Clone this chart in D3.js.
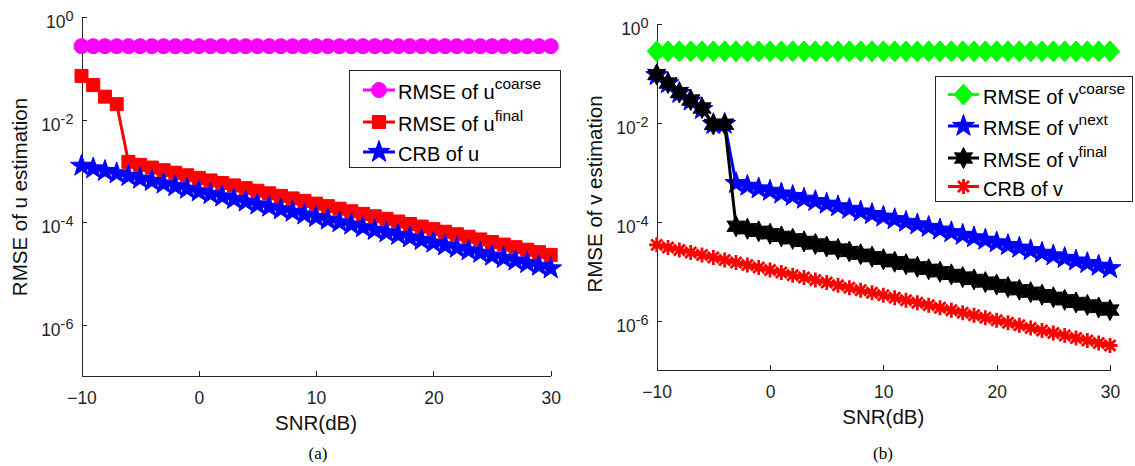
<!DOCTYPE html>
<html>
<head>
<meta charset="utf-8">
<title></title>
<script src="https://cdn.jsdelivr.net/npm/d3@7"></script>
<style>
  body { margin: 0; background: #fff; }
  svg { font-family: Arial, "Liberation Sans", sans-serif; }
  .axis path, .axis line { stroke: #262626; stroke-width: 1; shape-rendering: crispEdges; }
  .axis text { font-size: 17.5px; fill: #262626; font-family: Arial, "Liberation Sans", sans-serif; }
</style>
</head>
<body>
<svg id="chart" width="1135" height="466"></svg>
<script>
// SNR in dB (x values, one marker per dB)
var snr = [-10,-9,-8,-7,-6,-5,-4,-3,-2,-1,0,1,2,3,4,5,6,7,8,9,10,
           11,12,13,14,15,16,17,18,19,20,21,22,23,24,25,26,27,28,29,30];
var xTicks = [-10, 0, 10, 20, 30];
var yTicks = [1e-6, 1e-4, 1e-2, 1];

// panel (a)
var uCoarse = [0.27,0.27,0.27,0.27,0.27,0.27,0.27,0.27,0.27,0.27,0.27,0.27,0.27,0.27,
               0.27,0.27,0.27,0.27,0.27,0.27,0.27,0.27,0.27,0.27,0.27,0.27,0.27,0.27,
               0.27,0.27,0.27,0.27,0.27,0.27,0.27,0.27,0.27,0.27,0.27,0.27,0.27];
var uFinal = [0.071,0.047,0.028,0.020,1.5e-3,1.31e-3,1.16e-3,1.03e-3,9.2e-4,8.2e-4,
              7.3e-4,6.5e-4,5.8e-4,5.2e-4,4.6e-4,4.1e-4,3.65e-4,3.25e-4,2.9e-4,2.6e-4,
              2.3e-4,2.05e-4,1.83e-4,1.63e-4,1.45e-4,1.3e-4,1.16e-4,1.03e-4,9.2e-5,8.2e-5,
              7.3e-5,6.5e-5,5.8e-5,5.2e-5,4.6e-5,4.1e-5,3.65e-5,3.25e-5,2.9e-5,2.6e-5,2.3e-5];
var uCrb = [1.25e-3,1.11e-3,9.9e-4,8.9e-4,7.9e-4,7.0e-4,6.3e-4,5.6e-4,5.0e-4,4.45e-4,
            3.95e-4,3.5e-4,3.15e-4,2.8e-4,2.5e-4,2.2e-4,1.98e-4,1.77e-4,1.58e-4,1.4e-4,
            1.25e-4,1.11e-4,9.9e-5,8.9e-5,7.9e-5,7.0e-5,6.3e-5,5.6e-5,5.0e-5,4.45e-5,
            3.95e-5,3.5e-5,3.15e-5,2.8e-5,2.5e-5,2.2e-5,1.98e-5,1.77e-5,1.58e-5,1.4e-5,1.25e-5];

// panel (b)
var vCoarse = [0.28,0.28,0.28,0.28,0.28,0.28,0.28,0.28,0.28,0.28,0.28,0.28,0.28,0.28,
               0.28,0.28,0.28,0.28,0.28,0.28,0.28,0.28,0.28,0.28,0.28,0.28,0.28,0.28,
               0.28,0.28,0.28,0.28,0.28,0.28,0.28,0.28,0.28,0.28,0.28,0.28,0.28];
var vNext = [0.092,0.063,0.040,0.028,0.019,9.4e-3,9.5e-3,6.0e-4,5.3e-4,4.7e-4,
             4.2e-4,3.7e-4,3.3e-4,2.9e-4,2.6e-4,2.3e-4,2.04e-4,1.81e-4,1.6e-4,1.42e-4,
             1.26e-4,1.12e-4,9.9e-5,8.8e-5,7.8e-5,6.9e-5,6.1e-5,5.4e-5,4.8e-5,4.3e-5,
             3.8e-5,3.35e-5,2.97e-5,2.64e-5,2.34e-5,2.07e-5,1.84e-5,1.63e-5,1.45e-5,1.28e-5,1.14e-5];
var vFinal = [0.095,0.064,0.041,0.029,0.020,9.3e-3,9.4e-3,8.1e-5,7.2e-5,6.4e-5,
              5.7e-5,5.05e-5,4.5e-5,4.0e-5,3.55e-5,3.15e-5,2.8e-5,2.5e-5,2.2e-5,1.96e-5,
              1.74e-5,1.55e-5,1.38e-5,1.22e-5,1.09e-5,9.7e-6,8.6e-6,7.6e-6,6.8e-6,6.0e-6,
              5.35e-6,4.75e-6,4.2e-6,3.75e-6,3.33e-6,2.96e-6,2.63e-6,2.33e-6,2.07e-6,1.84e-6,1.63e-6];
var vCrb = [3.4e-5,3.02e-5,2.69e-5,2.39e-5,2.13e-5,1.89e-5,1.68e-5,1.5e-5,1.33e-5,1.18e-5,
            1.05e-5,9.4e-6,8.3e-6,7.4e-6,6.6e-6,5.9e-6,5.2e-6,4.6e-6,4.1e-6,3.67e-6,
            3.26e-6,2.9e-6,2.58e-6,2.3e-6,2.04e-6,1.82e-6,1.62e-6,1.44e-6,1.28e-6,1.14e-6,
            1.01e-6,9.0e-7,8.0e-7,7.1e-7,6.3e-7,5.6e-7,5.0e-7,4.45e-7,3.96e-7,3.52e-7,3.13e-7];

var svg = d3.select("#chart");

/** star shaped marker, n points **/
function starPath(n, R, ratio) {
  var pts = [];
  for (var i = 0; i < 2 * n; i++) {
    var a = -Math.PI / 2 + i * Math.PI / n;
    var rr = (i % 2) ? R * ratio : R;
    pts.push([(rr * Math.cos(a)).toFixed(2), (rr * Math.sin(a)).toFixed(2)]);
  }
  return "M" + pts.join("L") + "Z";
}

var markers = {
  circle:    {d: "M-7.5,0A7.5,7.5 0 1,0 7.5,0A7.5,7.5 0 1,0 -7.5,0Z", filled: true},
  square:    {d: "M-6.5,-6.5H6.5V6.5H-6.5Z", filled: true},
  diamond:   {d: "M0,-10.5L9.5,0L0,10.5L-9.5,0Z", filled: true},
  pentagram: {d: starPath(5, 11.5, 0.4), filled: true},
  hexagram:  {d: starPath(6, 10.5, 0.55), filled: true},
  asterisk:  {d: "M-7.5,0H7.5M0,-7.5V7.5M-5.5,-5.5L5.5,5.5M-5.5,5.5L5.5,-5.5", filled: false}
};

function drawMarker(g, type, color, cx, cy) {
  var m = markers[type];
  g.append("path")
    .attr("d", m.d)
    .attr("transform", "translate(" + cx + "," + cy + ")")
    .attr("fill", m.filled ? color : "none")
    .attr("stroke", color)
    .attr("stroke-width", m.filled ? 1 : 2.8);
}

function drawPanel(p) {
  var x = d3.scaleLinear().domain([-10, 30]).range([p.x0, p.x1]);
  var y = d3.scaleLog().domain([1e-7, 1]).range([p.y1, p.y0]);

  var xaxis = d3.axisBottom(x).tickValues(xTicks).tickSizeInner(-5).tickSizeOuter(0).tickPadding(16);
  var yaxis = d3.axisLeft(y).tickValues(yTicks).tickSizeInner(-5).tickSizeOuter(0).tickFormat("");

  svg.append("g").attr("class", "axis")
    .attr("transform", "translate(0," + p.y1 + ")")
    .call(xaxis);
  svg.append("g").attr("class", "axis")
    .attr("transform", "translate(" + p.x0 + ",0)")
    .call(yaxis);

  // y tick labels 10^k
  yTicks.forEach(function(t) {
    var k = Math.round(Math.log10(t));
    var txt = svg.append("text")
      .attr("x", p.x0 - 8).attr("y", y(t) + 11)
      .attr("text-anchor", "end")
      .attr("font-size", 17.5).attr("fill", "#262626");
    txt.append("tspan").text("10");
    txt.append("tspan").attr("font-size", 14.5).attr("dy", -7).text(k === 0 ? "0" : "-" + (-k));
  });

  var line = d3.line().x(function(d) { return x(d[0]); }).y(function(d) { return y(d[1]); });

  p.series.forEach(function(s) {
    var pts = snr.map(function(v, i) { return [v, s.values[i]]; });
    var g = svg.append("g");
    g.append("path").attr("d", line(pts))
      .attr("fill", "none").attr("stroke", s.color).attr("stroke-width", 3)
      .attr("stroke-linejoin", "round");
    pts.forEach(function(d) { drawMarker(g, s.marker, s.color, x(d[0]), y(d[1])); });
  });

  // axis labels
  svg.append("text")
    .attr("x", (p.x0 + p.x1) / 2).attr("y", p.y1 + 54)
    .attr("text-anchor", "middle").attr("font-size", 20.5).attr("fill", "#111")
    .text("SNR(dB)");
  svg.append("text")
    .attr("transform", "translate(" + p.ylabX + "," + p.ylabY + ") rotate(-90)")
    .attr("text-anchor", "middle").attr("font-size", 20.5).attr("fill", "#111")
    .text(p.ylabel);
  svg.append("text")
    .attr("x", p.capX).attr("y", 459)
    .attr("text-anchor", "middle")
    .attr("font-family", "'Liberation Serif', 'Times New Roman', serif")
    .attr("font-size", 17).attr("fill", "#000")
    .text(p.caption);

  // legend
  var L = p.legend;
  svg.append("rect")
    .attr("x", L.x).attr("y", L.y).attr("width", L.w).attr("height", L.h)
    .attr("fill", "#fff").attr("stroke", "#262626").attr("stroke-width", 1)
    .attr("shape-rendering", "crispEdges");
  p.series.forEach(function(s, i) {
    var cy = L.rows[i];
    var g = svg.append("g");
    g.append("line").attr("x1", L.lx0).attr("x2", L.lx1).attr("y1", cy).attr("y2", cy)
      .attr("stroke", s.color).attr("stroke-width", 3);
    drawMarker(g, s.marker, s.color, (L.lx0 + L.lx1) / 2, cy);
    var t = g.append("text").attr("x", L.tx).attr("y", cy + 9)
      .attr("font-size", 20).attr("fill", "#000");
    t.append("tspan").text(s.label);
    if (s.sup) t.append("tspan").attr("font-size", 15.5).attr("dy", -10).text(s.sup);
  });
}

drawPanel({
  x0: 81.5, x1: 550.7, y0: 17, y1: 376,
  ylabel: "RMSE of u estimation", ylabX: 27, ylabY: 197,
  capX: 318, caption: "(a)",
  series: [
    {values: uCoarse, color: "#ff00ff", marker: "circle", label: "RMSE of u", sup: "coarse"},
    {values: uFinal, color: "#ff0000", marker: "square", label: "RMSE of u", sup: "final"},
    {values: uCrb, color: "#0000ff", marker: "pentagram", label: "CRB of u", sup: null}
  ],
  legend: {x: 349.5, y: 70.5, w: 211, h: 97, rows: [90, 122, 152], lx0: 363, lx1: 395, tx: 398}
});

drawPanel({
  x0: 656.7, x1: 1110, y0: 24, y1: 370,
  ylabel: "RMSE of v estimation", ylabX: 602, ylabY: 194,
  capX: 883, caption: "(b)",
  series: [
    {values: vCoarse, color: "#00ff00", marker: "diamond", label: "RMSE of v", sup: "coarse"},
    {values: vNext, color: "#0000ff", marker: "pentagram", label: "RMSE of v", sup: "next"},
    {values: vFinal, color: "#000000", marker: "hexagram", label: "RMSE of v", sup: "final"},
    {values: vCrb, color: "#ff0000", marker: "asterisk", label: "CRB of v", sup: null}
  ],
  legend: {x: 935.5, y: 76.5, w: 197, h: 125, rows: [94.5, 126, 158, 186.5], lx0: 948, lx1: 979, tx: 983}
});
</script>
</body>
</html>
